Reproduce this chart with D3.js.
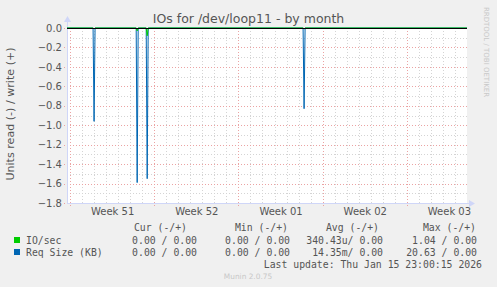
<!DOCTYPE html>
<html>
<head>
<meta charset="utf-8">
<script src="https://cdn.jsdelivr.net/npm/d3@7"></script>
<style>
  html, body { margin: 0; padding: 0; background: #f0f0f0; }
  svg { display: block; }
  text { font-family: 'DejaVu Sans', sans-serif; fill: #555; }
  .mono { font-family: 'DejaVu Sans Mono', monospace; font-size: 9.8px; fill: #555; }
</style>
</head>
<body>
<div id="chart"></div>
<script>
// data
const timeStart = '2025-12-13T18:00:00Z';
const timeEnd = '2026-01-16T00:00:00Z';
const spikeTimes = [
  '2025-12-16T00:00:00Z',
  '2025-12-19T14:00:00Z',
  '2025-12-20T10:00:00Z',
  '2026-01-02T11:00:00Z',
];
const reqSizeValues = [-0.96, -1.59, -1.55, -0.83];
const ioSecValues = [-0.01, -0.03, -0.08, -0.01];
const yTickValues = [0, -0.2, -0.4, -0.6, -0.8, -1.0, -1.2, -1.4, -1.6, -1.8];
const weekLabels = ['Week 51', 'Week 52', 'Week 01', 'Week 02', 'Week 03'];
const legendSeries = ['IO/sec', 'Req Size (KB)'];
const legendColors = ['#00cc00', '#0066b3'];
const legendHeaders = ['Cur (-/+)', 'Min (-/+)', 'Avg (-/+)', 'Max (-/+)'];
const legendRows = [
  ['0.00 / 0.00', '0.00 / 0.00', '340.43u/ 0.00', '1.04 / 0.00'],
  ['0.00 / 0.00', '0.00 / 0.00', '14.35m/ 0.00', '20.63 / 0.00'],
];

const WIDTH = 497;
const HEIGHT = 287;
const plot = { left: 67, right: 467, top: 28, bottom: 203 };
const axisColor = '#cfd6f8';
const minorGrid = '#d4d4d4';
const majorGrid = '#eba3a3';

const svg = d3.create('svg').attr('width', WIDTH).attr('height', HEIGHT);

svg.append('rect').attr('width', WIDTH).attr('height', HEIGHT).attr('fill', '#f0f0f0');

const x = d3
  .scaleUtc()
  .domain([new Date(timeStart), new Date(timeEnd)])
  .range([plot.left, plot.right]);

const y = d3.scaleLinear().domain([-1.8, 0]).range([plot.bottom, plot.top]);

svg
  .append('rect')
  .attr('x', plot.left)
  .attr('y', plot.top)
  .attr('width', plot.right - plot.left)
  .attr('height', plot.bottom - plot.top)
  .attr('fill', '#fff');

// grid
const grid = svg.append('g').attr('stroke-width', 1).attr('stroke-dasharray', '1,2');

const minorY = d3.range(0, 19).map((i) => -i / 10).filter((_, i) => i % 2 === 1);
grid
  .selectAll('.hminor')
  .data(minorY)
  .join('line')
  .attr('x1', plot.left)
  .attr('x2', plot.right)
  .attr('y1', (d) => Math.round(y(d)) + 0.5)
  .attr('y2', (d) => Math.round(y(d)) + 0.5)
  .attr('stroke', minorGrid);

const days = d3.utcDay.range(x.domain()[0], x.domain()[1]);
grid
  .selectAll('.vminor')
  .data(days)
  .join('line')
  .attr('x1', (d) => Math.round(x(d)) + 0.5)
  .attr('x2', (d) => Math.round(x(d)) + 0.5)
  .attr('y1', plot.top)
  .attr('y2', plot.bottom)
  .attr('stroke', minorGrid);

grid
  .selectAll('.hmajor')
  .data(yTickValues)
  .join('line')
  .attr('x1', plot.left - 3)
  .attr('x2', plot.right)
  .attr('y1', (d) => Math.round(y(d)) + 0.5)
  .attr('y2', (d) => Math.round(y(d)) + 0.5)
  .attr('stroke', majorGrid);

const sundays = d3.utcSunday.range(x.domain()[0], x.domain()[1]);
grid
  .selectAll('.vmajor')
  .data(sundays)
  .join('line')
  .attr('x1', (d) => Math.round(x(d)) + 0.5)
  .attr('x2', (d) => Math.round(x(d)) + 0.5)
  .attr('y1', plot.top)
  .attr('y2', plot.bottom + 3)
  .attr('stroke', majorGrid);

// axes lines and arrows
svg
  .append('line')
  .attr('x1', plot.left + 0.5)
  .attr('x2', plot.left + 0.5)
  .attr('y1', plot.bottom)
  .attr('y2', plot.top - 8)
  .attr('stroke', axisColor);
svg
  .append('line')
  .attr('x1', plot.left)
  .attr('x2', plot.right + 4)
  .attr('y1', plot.bottom + 0.5)
  .attr('y2', plot.bottom + 0.5)
  .attr('stroke', axisColor);
svg
  .append('path')
  .attr('d', `M${plot.left - 3},${plot.top - 6} L${plot.left + 0.5},${plot.top - 12} L${plot.left + 4},${plot.top - 6} Z`)
  .attr('fill', axisColor);
svg
  .append('path')
  .attr('d', `M${plot.right + 2},${plot.bottom - 3} L${plot.right + 8},${plot.bottom + 0.5} L${plot.right + 2},${plot.bottom + 4} Z`)
  .attr('fill', axisColor);

// y axis labels
const yAxis = d3
  .axisLeft(y)
  .tickValues(yTickValues)
  .tickFormat(d3.format('.1f'))
  .tickSize(0)
  .tickPadding(5);

const yAxisG = svg.append('g').attr('transform', `translate(${plot.left},0)`).call(yAxis);
yAxisG.select('.domain').remove();
yAxisG
  .selectAll('text')
  .attr('font-family', "'DejaVu Sans', sans-serif")
  .attr('font-size', 10)
  .attr('fill', '#555')
  .text((d) => (d === 0 ? '0.0' : d3.format('.1f')(d)));

// x axis labels, centered on each week
const weekMiddles = sundays.map((d) => d3.utcHour.offset(d, 84));
const xAxis = d3
  .axisBottom(x)
  .tickValues(weekMiddles)
  .tickFormat((_, i) => weekLabels[i])
  .tickSize(0)
  .tickPadding(5);

const xAxisG = svg.append('g').attr('transform', `translate(0,${plot.bottom})`).call(xAxis);
xAxisG.select('.domain').remove();
xAxisG
  .selectAll('text')
  .attr('font-family', "'DejaVu Sans', sans-serif")
  .attr('font-size', 10)
  .attr('fill', '#555');

// series
const step = 2 * 3600 * 1000;
const buildSeries = (values) => {
  const points = [[new Date(timeStart), 0]];
  spikeTimes.forEach((t, i) => {
    const time = new Date(t);
    points.push([new Date(+time - step), 0]);
    points.push([time, values[i]]);
    points.push([new Date(+time + step), 0]);
  });
  points.push([new Date(timeEnd), 0]);
  return points;
};

const line = d3
  .line()
  .x((d) => x(d[0]))
  .y((d) => y(d[1]));

svg
  .append('path')
  .attr('d', line(buildSeries(reqSizeValues)))
  .attr('fill', 'none')
  .attr('stroke', legendColors[1])
  .attr('stroke-width', 1);

svg
  .append('path')
  .attr('d', line(buildSeries(ioSecValues)))
  .attr('fill', 'none')
  .attr('stroke', legendColors[0])
  .attr('stroke-width', 1);

// zero line on top
svg
  .append('line')
  .attr('x1', plot.left)
  .attr('x2', plot.right)
  .attr('y1', y(0) + 0.5)
  .attr('y2', y(0) + 0.5)
  .attr('stroke', '#000');

// titles
svg
  .append('text')
  .attr('x', 248.5)
  .attr('y', 23)
  .attr('text-anchor', 'middle')
  .attr('font-size', 12.5)
  .text('IOs for /dev/loop11 - by month');

svg
  .append('text')
  .attr('transform', 'translate(14,114) rotate(-90)')
  .attr('text-anchor', 'middle')
  .attr('font-size', 11.1)
  .text('Units read (-) / write (+)');

svg
  .append('text')
  .attr('transform', 'translate(484,52) rotate(90)')
  .attr('text-anchor', 'middle')
  .attr('font-size', 7)
  .style('fill', '#c8c8c8')
  .text('RRDTOOL / TOBI OETIKER');

// legend
const headerEnds = [187, 288, 379, 476];
const valueEnds = [197, 290, 383, 477];

svg
  .append('g')
  .selectAll('text')
  .data(legendHeaders)
  .join('text')
  .attr('class', 'mono')
  .attr('x', (_, i) => headerEnds[i])
  .attr('y', 230.5)
  .attr('text-anchor', 'end')
  .text((d) => d);

const rows = svg
  .append('g')
  .selectAll('g')
  .data(legendSeries)
  .join('g')
  .attr('transform', (_, i) => `translate(0,${243.5 + i * 12})`);

rows
  .append('rect')
  .attr('x', 14)
  .attr('y', -6.5)
  .attr('width', 6)
  .attr('height', 6)
  .attr('fill', (_, i) => legendColors[i]);

rows
  .append('text')
  .attr('class', 'mono')
  .attr('x', 26)
  .text((d) => d);

rows
  .selectAll('.val')
  .data((_, i) => legendRows[i])
  .join('text')
  .attr('class', 'mono')
  .attr('x', (_, j) => valueEnds[j])
  .attr('text-anchor', 'end')
  .style('white-space', 'pre')
  .text((d) => d);

svg
  .append('text')
  .attr('class', 'mono')
  .attr('x', 482)
  .attr('y', 267.5)
  .attr('text-anchor', 'end')
  .text('Last update: Thu Jan 15 23:00:15 2026');

svg
  .append('text')
  .attr('x', 248)
  .attr('y', 279)
  .attr('text-anchor', 'middle')
  .attr('font-size', 7.4)
  .style('fill', '#c8c8c8')
  .text('Munin 2.0.75');

document.getElementById('chart').appendChild(svg.node());
</script>
</body>
</html>
